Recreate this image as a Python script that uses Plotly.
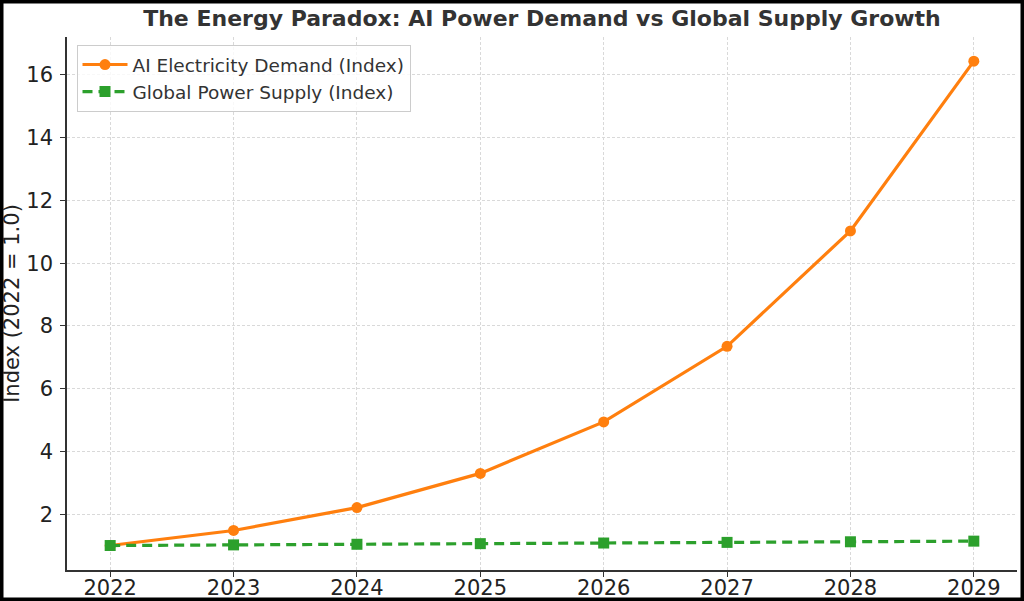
import plotly.graph_objects as go

years = [2022, 2023, 2024, 2025, 2026, 2027, 2028, 2029]
ai_demand = [1.0, 1.48, 2.21, 3.30, 4.94, 7.35, 11.03, 16.44]
power_supply = [1.0, 1.02, 1.04, 1.06, 1.08, 1.10, 1.12, 1.14]
y_ticks = [2, 4, 6, 8, 10, 12, 14, 16]

font = 'DejaVu Sans, Liberation Sans, sans-serif'

fig = go.Figure()
fig.add_trace(go.Scatter(
    x=years, y=ai_demand, name='AI Electricity Demand (Index)',
    mode='lines+markers', line=dict(color='#ff7f0e', width=3.2),
    marker=dict(symbol='circle', size=11, color='#ff7f0e'),
))
fig.add_trace(go.Scatter(
    x=years, y=power_supply, name='Global Power Supply (Index)',
    mode='lines+markers', line=dict(color='#2ca02c', width=3.2, dash='10px,6px'),
    marker=dict(symbol='square', size=11, color='#2ca02c'),
))

axis_common = dict(
    showgrid=True, gridcolor='#d9d9d9', griddash='3px,2px', gridwidth=1,
    showline=True, linecolor='#333333', linewidth=1.5,
    ticks='outside', ticklen=5, tickcolor='#333333', tickwidth=1.2,
    tickfont=dict(family=font, size=21, color='#222222'),
    zeroline=False, automargin=False,
)

fig.update_layout(
    width=1024, height=601,
    paper_bgcolor='white', plot_bgcolor='white',
    margin=dict(l=67, r=7, t=37, b=31),
    title=dict(text='<b>The Energy Paradox: AI Power Demand vs Global Supply Growth</b>',
               x=0.5, xref='paper', y=1 - 18 / 601, yref='container',
               xanchor='center', yanchor='middle',
               font=dict(family=font, size=22, color='#333333')),
    xaxis=dict(axis_common, range=[2021.65, 2029.35], tickvals=years, ticklabelstandoff=-7),
    yaxis=dict(axis_common, range=[0.22, 17.21], tickvals=y_ticks, ticklabelstandoff=3,
               title=dict(text='Index (2022 = 1.0)', standoff=10,
                          font=dict(family=font, size=21, color='#222222'))),
    legend=dict(x=0.01, y=0.985, xanchor='left', yanchor='top', itemwidth=45,
                bgcolor='rgba(255,255,255,0.8)', bordercolor='#cccccc', borderwidth=1,
                font=dict(family=font, size=18.5, color='#333333'), tracegroupgap=0),
    showlegend=True,
)

# black frame around the whole image
fig.add_shape(type='rect', xref='paper', yref='paper',
              x0=-67 / 950, x1=(1024 - 67) / 950, y0=-31 / 533, y1=1 + 37 / 533,
              line=dict(color='black', width=7), fillcolor='rgba(0,0,0,0)')

fig.write_html('out.html', config={'displayModeBar': False},
               post_script="document.body.style.margin='0';document.body.style.overflow='hidden';")
